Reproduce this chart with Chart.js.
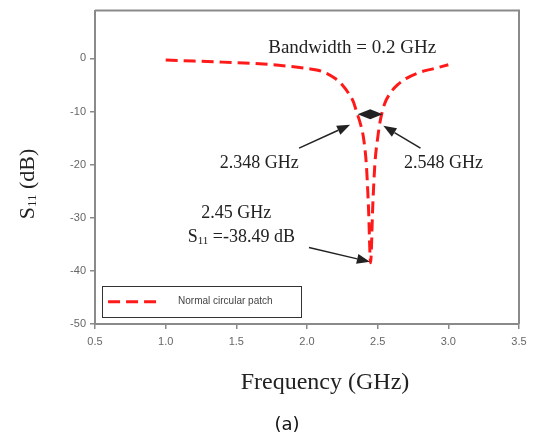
<!DOCTYPE html>
<html><head><meta charset="utf-8">
<script src="https://cdn.jsdelivr.net/npm/chart.js@4/dist/chart.umd.min.js"></script>
<style>html,body{margin:0;padding:0;background:#fff;}canvas{display:block}</style>
</head><body>
<canvas id="c" width="536" height="437"></canvas>
<script>
// ---- data ----
const frequencyGHz = [1.0, 1.2, 1.4, 1.6, 1.8, 2.0, 2.1, 2.2, 2.25, 2.3, 2.33, 2.35, 2.38, 2.40, 2.42, 2.435, 2.45, 2.465, 2.48, 2.50, 2.52, 2.55, 2.59, 2.64, 2.70, 2.80, 2.90, 3.0];
const s11dB        = [-0.3, -0.5, -0.7, -0.9, -1.3, -1.9, -2.4, -3.8, -5.0, -6.8, -8.3, -10.0, -12.5, -15.0, -20.0, -28.0, -38.49, -28.0, -20.0, -15.0, -11.5, -8.5, -6.5, -5.0, -3.8, -2.6, -1.9, -1.2];
const xTickValues  = [0.5, 1.0, 1.5, 2.0, 2.5, 3.0, 3.5];
const yTickValues  = [-50, -40, -30, -20, -10, 0];
const seriesName   = 'Normal circular patch';
const resonanceGHz = 2.45;
const resonanceDB  = -38.49;
const bandEdgesGHz = [2.348, 2.548];
const bandwidthGHz = 0.2;

const points = frequencyGHz.map((f, i) => ({x: f, y: s11dB[i]}));

const SERIF = '"Liberation Serif", "Times New Roman", serif';
const SANS = '"Liberation Sans", Arial, sans-serif';

function arrow(ctx, x1, y1, x2, y2, head, width) {
  const a = Math.atan2(y2 - y1, x2 - x1);
  const bx = x2 - head * Math.cos(a), by = y2 - head * Math.sin(a);
  ctx.beginPath(); ctx.moveTo(x1, y1); ctx.lineTo(bx, by); ctx.stroke();
  ctx.beginPath();
  ctx.moveTo(x2, y2);
  ctx.lineTo(bx + width / 2 * Math.sin(a), by - width / 2 * Math.cos(a));
  ctx.lineTo(bx - width / 2 * Math.sin(a), by + width / 2 * Math.cos(a));
  ctx.closePath(); ctx.fill();
}

const decor = {
  id: 'decor',
  afterDraw(chart) {
    const {ctx, chartArea: ca, scales: {x, y}} = chart;
    const X = v => x.getPixelForValue(v), Y = v => y.getPixelForValue(v);
    ctx.save();
    // frame top and right
    ctx.strokeStyle = '#8a8a8a'; ctx.lineWidth = 2;
    ctx.beginPath();
    ctx.moveTo(ca.left, ca.top); ctx.lineTo(ca.right, ca.top); ctx.lineTo(ca.right, ca.bottom);
    ctx.stroke();

    // annotations
    ctx.fillStyle = '#222'; ctx.strokeStyle = '#222'; ctx.lineWidth = 1.5;
    ctx.textAlign = 'center'; ctx.textBaseline = 'middle';
    ctx.font = '19px ' + SERIF;
    ctx.fillText('Bandwidth = ' + bandwidthGHz + ' GHz', X(2.32), Y(1.9));

    // double-headed marker between band edges at -10 dB
    const ly = Y(-10.5), lx = X(bandEdgesGHz[0] + 0.01), rx = X(bandEdgesGHz[1] - 0.012), mx = (lx + rx) / 2;
    ctx.beginPath(); ctx.moveTo(lx, ly); ctx.lineTo(mx, ly - 5); ctx.lineTo(rx, ly); ctx.lineTo(mx, ly + 5); ctx.closePath(); ctx.fill();

    ctx.font = '18px ' + SERIF;
    ctx.fillText(bandEdgesGHz[0].toFixed(3) + ' GHz', X(1.662), Y(-19.7));
    ctx.fillText(bandEdgesGHz[1].toFixed(3) + ' GHz', X(2.965), Y(-19.7));
    arrow(ctx, X(1.944), Y(-16.9), X(2.305), Y(-12.5), 13, 10);
    arrow(ctx, X(2.803), Y(-16.9), X(2.54), Y(-12.7), 13, 10);

    ctx.fillText(resonanceGHz + ' GHz', X(1.5), Y(-29.2));
    // S11 = ... with subscript
    const yS = Y(-33.7);
    const t1 = 'S', t2 = '11', t3 = ' =' + resonanceDB + ' dB';
    ctx.font = '18px ' + SERIF; const w1 = ctx.measureText(t1).width, w3 = ctx.measureText(t3).width;
    ctx.font = '11px ' + SERIF; const w2 = ctx.measureText(t2).width;
    let sx = X(1.535) - (w1 + w2 + w3) / 2;
    ctx.textAlign = 'left';
    ctx.font = '18px ' + SERIF; ctx.fillText(t1, sx, yS);
    ctx.font = '11px ' + SERIF; ctx.fillText(t2, sx + w1, yS + 4);
    ctx.font = '18px ' + SERIF; ctx.fillText(t3, sx + w1 + w2, yS);
    arrow(ctx, X(2.014), Y(-35.6), X(2.445), Y(-38.3), 13, 10);

    // legend box
    const bx1 = X(0.55), bx2 = X(1.955), by1 = Y(-42.9), by2 = Y(-48.7);
    ctx.strokeStyle = '#333'; ctx.lineWidth = 1;
    ctx.strokeRect(Math.round(bx1) + 0.5, Math.round(by1) + 0.5, Math.round(bx2 - bx1), Math.round(by2 - by1));
    const my = (by1 + by2) / 2;
    ctx.strokeStyle = '#ff1a1a'; ctx.lineWidth = 3; ctx.setLineDash([12, 6]);
    ctx.beginPath(); ctx.moveTo(bx1 + 6, my); ctx.lineTo(bx1 + 60, my); ctx.stroke();
    ctx.setLineDash([]);
    ctx.fillStyle = '#444'; ctx.font = '10px ' + SANS; ctx.textAlign = 'left';
    ctx.fillText(seriesName, bx1 + 76, my);

    // axis titles
    ctx.fillStyle = '#222'; ctx.textAlign = 'center';
    ctx.font = '24px ' + SERIF;
    ctx.fillText('Frequency (GHz)', (ca.left + ca.right) / 2 + 18, 383);
    ctx.font = '18px "DejaVu Sans", sans-serif';
    ctx.fillStyle = '#111';
    ctx.fillText('(a)', 287, 425);

    // y title with subscript, rotated
    ctx.save();
    ctx.translate(28, 184); ctx.rotate(-Math.PI / 2);
    ctx.fillStyle = '#222'; ctx.textAlign = 'left';
    const a1 = 'S', a2 = '11', a3 = ' (dB)';
    ctx.font = '22px ' + SERIF; const q1 = ctx.measureText(a1).width, q3 = ctx.measureText(a3).width;
    ctx.font = '13px ' + SERIF; const q2 = ctx.measureText(a2).width;
    let tx = -(q1 + q2 + q3) / 2;
    ctx.font = '22px ' + SERIF; ctx.fillText(a1, tx, 0);
    ctx.font = '13px ' + SERIF; ctx.fillText(a2, tx + q1, 5);
    ctx.font = '22px ' + SERIF; ctx.fillText(a3, tx + q1 + q2, 0);
    ctx.restore();
    ctx.restore();
  }
};

new Chart(document.getElementById('c'), {
  type: 'line',
  data: {
    datasets: [{
      label: seriesName,
      data: points,
      borderColor: '#ff1a1a',
      borderWidth: 3,
      borderDash: [12, 6],
      pointRadius: 0,
      fill: false,
      cubicInterpolationMode: 'monotone'
    }]
  },
  options: {
    responsive: false,
    animation: false,
    layout: {padding: {left: 0, right: 17, top: 9, bottom: 0}},
    plugins: {legend: {display: false}, tooltip: {enabled: false}},
    scales: {
      x: {
        type: 'linear', min: 0.5, max: 3.5,
        afterFit: s => { s.height = 113; },
        afterBuildTicks: s => { s.ticks = xTickValues.map(v => ({value: v})); },
        grid: {drawOnChartArea: false, tickLength: 5, color: '#8a8a8a', lineWidth: 1.5},
        border: {color: '#8a8a8a', width: 2},
        ticks: {color: '#666', font: {family: SANS, size: 11}, padding: 6, maxRotation: 0,
                callback: v => Number(v).toFixed(1)}
      },
      y: {
        type: 'linear', min: -50, max: 9,
        afterFit: s => { s.width = 95; },
        afterBuildTicks: s => { s.ticks = yTickValues.map(v => ({value: v})); },
        grid: {drawOnChartArea: false, tickLength: 5, color: '#8a8a8a', lineWidth: 1.5},
        border: {color: '#8a8a8a', width: 2},
        ticks: {color: '#666', font: {family: SANS, size: 11}, padding: 4,
                callback: v => String(v)}
      }
    }
  },
  plugins: [decor]
});
</script>
</body></html>
